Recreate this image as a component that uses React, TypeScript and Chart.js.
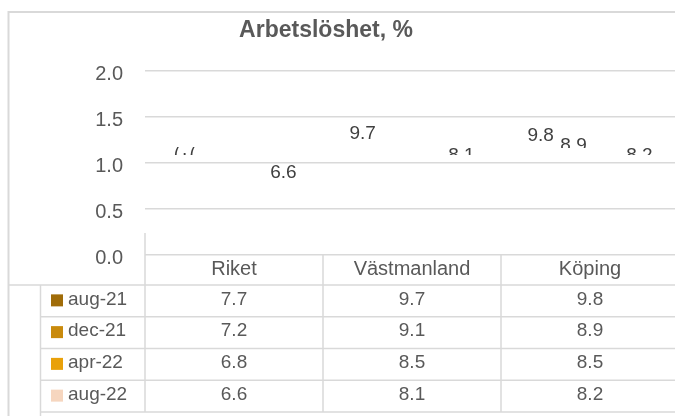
import { useEffect, useRef } from "react";
import { Chart, registerables } from "chart.js";

Chart.register(...registerables);

const TITLE = "Arbetslöshet, %";
const categories = ["Riket", "Västmanland", "Köping"];
const seriesNames = ["aug-21", "dec-21", "apr-22", "aug-22"];
const aug21 = [7.7, 9.7, 9.8];
const dec21 = [7.2, 9.1, 8.9];
const apr22 = [6.8, 8.5, 8.5];
const aug22 = [6.6, 8.1, 8.2];
const seriesValues = [aug21, dec21, apr22, aug22];
const seriesColors = ["#a06c08", "#c98a0c", "#e9a10a", "#f6d6bf"];
const yMin = 0;
const yMax = 2;
const yStep = 0.5;

// Data labels that remain visible in the reference (series, category, baseline, clipTop, clipBottom)
const visibleLabels: [number, number, number, number, number][] = [
  [0, 0, 155, 147, 200],
  [3, 0, 178, 0, 400],
  [0, 1, 139, 0, 400],
  [3, 1, 161, 0, 155],
  [0, 2, 141, 0, 400],
  [1, 2, 151, 0, 148],
  [3, 2, 161, 0, 155],
];

const FONT = "'Liberation Sans', Arial, sans-serif";
const GRID = "#d9d9d9";
const TEXT = "#595959";

const tablePlugin = {
  id: "tablePlugin",
  afterDatasetsDraw(chart: any) {
    const ctx = chart.ctx;
    ctx.save();
    ctx.font = `19px ${FONT}`;
    ctx.fillStyle = "#404040";
    ctx.textAlign = "center";
    ctx.textBaseline = "alphabetic";
    for (const [s, c, base, ct, cb] of visibleLabels) {
      const el = chart.getDatasetMeta(s).data[c];
      ctx.save();
      ctx.beginPath();
      ctx.rect(0, ct, chart.width, cb - ct);
      ctx.clip();
      ctx.fillText(String(seriesValues[s][c].toFixed(1)), el.x, base);
      ctx.restore();
    }
    ctx.restore();
  },
  afterDraw(chart: any) {
    const ctx = chart.ctx;
    const { left, right, bottom } = chart.chartArea;
    const W = chart.width;
    const H = chart.height;
    const catW = (right - left) / categories.length;
    const yScale = chart.scales.y;
    ctx.save();
    const line = (x1: number, y1: number, x2: number, y2: number) => {
      ctx.beginPath();
      ctx.moveTo(x1, y1);
      ctx.lineTo(x2, y2);
      ctx.stroke();
    };
    ctx.strokeStyle = GRID;
    ctx.lineWidth = 2;
    // outer border
    line(8.5, 12, W, 12);
    line(8.5, 11, 8.5, H);
    ctx.lineWidth = 1.5;

    // title
    ctx.fillStyle = TEXT;
    ctx.font = `bold 23px ${FONT}`;
    ctx.textAlign = "center";
    ctx.textBaseline = "alphabetic";
    ctx.fillText(TITLE, 326, 37);

    // y tick labels (Excel draws them slightly below the gridline)
    ctx.font = `20px ${FONT}`;
    ctx.textAlign = "right";
    ctx.textBaseline = "middle";
    for (const t of yScale.ticks) {
      ctx.fillText(Number(t.value).toFixed(1), left - 22, yScale.getPixelForValue(t.value) + 3);
    }

    // table
    const headerH = 30;
    const rowH = 31.75;
    const headerBottom = bottom + headerH;
    const tableBottom = headerBottom + rowH * seriesNames.length;
    // vertical lines
    line(left, bottom - 22, left, tableBottom);
    for (let i = 1; i < categories.length; i++) {
      const x = left + catW * i;
      line(x, bottom, x, tableBottom);
    }
    line(40.5, headerBottom, 40.5, H);
    // horizontal lines
    line(8.5, headerBottom, W, headerBottom);
    for (let r = 1; r <= seriesNames.length; r++) {
      const y = headerBottom + rowH * r;
      line(40.5, y, W, y);
    }

    // header
    ctx.font = `20px ${FONT}`;
    ctx.fillStyle = TEXT;
    ctx.textAlign = "center";
    ctx.textBaseline = "middle";
    categories.forEach((c, i) => {
      ctx.fillText(c, left + catW * (i + 0.5), bottom + headerH / 2 - 1);
    });

    // rows
    ctx.font = `19px ${FONT}`;
    seriesNames.forEach((name, r) => {
      const yc = headerBottom + rowH * (r + 0.5) - 1.5;
      ctx.fillStyle = seriesColors[r];
      ctx.fillRect(51, yc - 5, 12, 12);
      ctx.fillStyle = TEXT;
      ctx.textAlign = "left";
      ctx.fillText(name, 68, yc);
      ctx.textAlign = "center";
      seriesValues[r].forEach((v, c) => {
        ctx.fillText(v.toFixed(1), left + catW * (c + 0.5), yc);
      });
    });
    ctx.restore();
  },
};

export default function App() {
  const ref = useRef<HTMLCanvasElement>(null);
  useEffect(() => {
    if (!ref.current) return;
    const chart = new Chart(ref.current, {
      type: "bar",
      data: {
        labels: categories,
        datasets: seriesNames.map((name, i) => ({
          label: name,
          data: seriesValues[i],
          backgroundColor: "rgba(0,0,0,0)",
          borderWidth: 0,
          categoryPercentage: 0.74,
          barPercentage: 1,
        })),
      },
      options: {
        responsive: false,
        animation: false,
        layout: { padding: { top: 71, bottom: 161, left: 0, right: 1 } },
        plugins: {
          legend: { display: false },
          title: { display: false },
          tooltip: { enabled: false },
        },
        scales: {
          x: { display: false },
          y: {
            min: yMin,
            max: yMax,
            ticks: {
              stepSize: yStep,
              display: false,
            },
            grid: { color: GRID, lineWidth: 1.5, drawTicks: false },
            border: { display: false },
            afterFit: (scale: any) => {
              scale.width = 145;
            },
          },
        },
      },
      plugins: [tablePlugin],
    });
    return () => chart.destroy();
  }, []);
  return (
    <div
      style={{
        position: "fixed",
        left: 0,
        top: 0,
        width: 675,
        height: 416,
        overflow: "hidden",
        background: "#ffffff",
      }}
    >
      <canvas ref={ref} width={680} height={416} style={{ display: "block" }} />
    </div>
  );
}
